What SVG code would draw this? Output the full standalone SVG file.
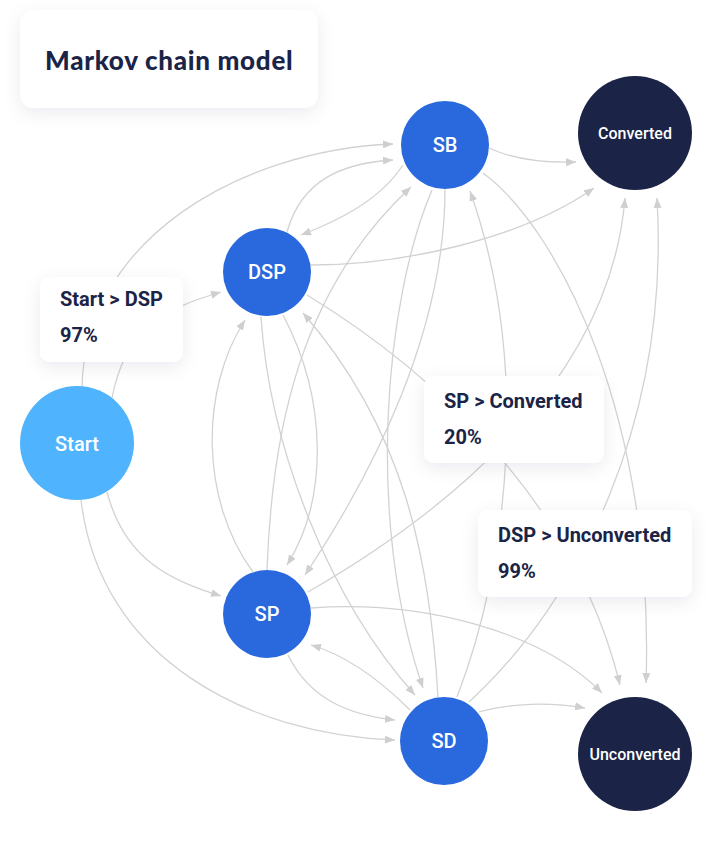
<svg xmlns="http://www.w3.org/2000/svg" width="724" height="844" viewBox="0 0 724 844">
<defs>
<style>
.edge{fill:none;stroke:#d2d2d4;stroke-width:1.3;marker-end:url(#arr)}
.card{fill:#ffffff;filter:url(#sh)}
.lbl{font-family:Roboto,"Liberation Sans",sans-serif;font-weight:700;font-size:20px;fill:#1b2447}
.nlbl{font-family:Roboto,"Liberation Sans",sans-serif;font-weight:500;font-size:20px;fill:#ffffff;text-anchor:middle}
.nsm{font-size:16px}
.blue{fill:#2968dd}
.navy{fill:#1b2447}
</style>
<marker id="arr" markerUnits="userSpaceOnUse" markerWidth="10" markerHeight="8" refX="10" refY="4" orient="auto">
<path d="M0,0 L10,4 L0,8 z" fill="#cfcfd1"/>
</marker>
<filter id="sh" x="-30%" y="-30%" width="160%" height="170%">
<feDropShadow dx="0" dy="5" stdDeviation="9" flood-color="#1b2447" flood-opacity="0.08"/>
</filter>
</defs>
<rect width="724" height="844" fill="#ffffff"/>

<g id="title">
<rect class="card" x="20" y="10" width="298" height="98" rx="14"/>
<text x="45" y="70" font-family="Lato,'Liberation Sans',sans-serif" font-weight="900" font-size="26" letter-spacing="0.7" fill="#1b2447">Markov chain model</text>
</g>

<g id="edges">
<path id="e-start-sb" class="edge" d="M82 387 C85 240 240 150 393 144"/>
<path id="e-start-dsp" class="edge" d="M112 398 C125 330 160 310 221 292"/>
<path id="e-start-sp" class="edge" d="M107 492 C125 560 170 580 221 596"/>
<path id="e-start-sd" class="edge" d="M81 500 C100 660 250 735 395 740"/>
<path id="e-dsp-sb" class="edge" d="M287 232 C302 178 345 163 393 160"/>
<path id="e-sb-dsp" class="edge" d="M403 165 C380 200 340 220 301 235"/>
<path id="e-dsp-conv" class="edge" d="M311 265 C400 265 520 240 594 188"/>
<path id="e-dsp-unc" class="edge" d="M307 295 C430 370 575 500 620 685"/>
<path id="e-dsp-sp" class="edge" d="M283 315 C328 400 328 500 287 565"/>
<path id="e-sp-dsp" class="edge" d="M253 572 C200 500 200 390 245 320"/>
<path id="e-dsp-sd" class="edge" d="M261 317 C270 450 330 600 415 695"/>
<path id="e-sd-dsp" class="edge" d="M438 697 C430 560 405 430 303 313"/>
<path id="e-sp-sb" class="edge" d="M267 570 C272 430 300 290 411 187"/>
<path id="e-sb-sp" class="edge" d="M445 189 C445 330 375 470 305 575"/>
<path id="e-sb-sd" class="edge" d="M432 190 C385 300 365 520 423 688"/>
<path id="e-sb-conv" class="edge" d="M489 148 C515 160 545 163 576 162"/>
<path id="e-sb-unc" class="edge" d="M483 173 C560 230 655 420 646 683"/>
<path id="e-sp-conv" class="edge" d="M308 592 C450 510 610 380 625 198"/>
<path id="e-sp-unc" class="edge" d="M311 608 C420 600 540 630 602 693"/>
<path id="e-sp-sd" class="edge" d="M288 655 C310 700 350 715 395 720"/>
<path id="e-sd-sp" class="edge" d="M410 710 C380 680 345 655 311 645"/>
<path id="e-sd-sb" class="edge" d="M457 697 C510 560 530 360 470 191"/>
<path id="e-sd-conv" class="edge" d="M469 702 C580 600 670 420 657 198"/>
<path id="e-sd-unc" class="edge" d="M479 712 C510 703 550 702 585 708"/>
</g>

<g id="node-start"><circle cx="77" cy="443" r="57" fill="#4fb3fd"/><text class="nlbl" x="77" y="451">Start</text></g>
<g id="node-dsp"><circle class="blue" cx="267" cy="272" r="44"/><text class="nlbl" x="267" y="279">DSP</text></g>
<g id="node-sb"><circle class="blue" cx="445" cy="145" r="44"/><text class="nlbl" x="445" y="152">SB</text></g>
<g id="node-sp"><circle class="blue" cx="267" cy="614" r="44"/><text class="nlbl" x="267" y="621">SP</text></g>
<g id="node-sd"><circle class="blue" cx="444" cy="741" r="44"/><text class="nlbl" x="444" y="748">SD</text></g>
<g id="node-converted"><circle class="navy" cx="635" cy="133" r="57"/><text class="nlbl nsm" x="635" y="138.5">Converted</text></g>
<g id="node-unconverted"><circle class="navy" cx="635" cy="754" r="57"/><text class="nlbl nsm" x="635" y="759.5">Unconverted</text></g>

<g id="label-start-dsp">
<rect class="card" x="40" y="277" width="143" height="85" rx="10"/>
<text class="lbl" x="60" y="306">Start &gt; DSP</text>
<text class="lbl" x="60" y="342">97%</text>
</g>
<g id="label-sp-conv">
<rect class="card" x="424" y="376" width="180" height="87" rx="10"/>
<text class="lbl" x="444" y="408">SP &gt; Converted</text>
<text class="lbl" x="444" y="444">20%</text>
</g>
<g id="label-dsp-unc">
<rect class="card" x="478" y="510" width="214" height="87" rx="10"/>
<text class="lbl" x="498" y="542">DSP &gt; Unconverted</text>
<text class="lbl" x="498" y="578">99%</text>
</g>
</svg>
